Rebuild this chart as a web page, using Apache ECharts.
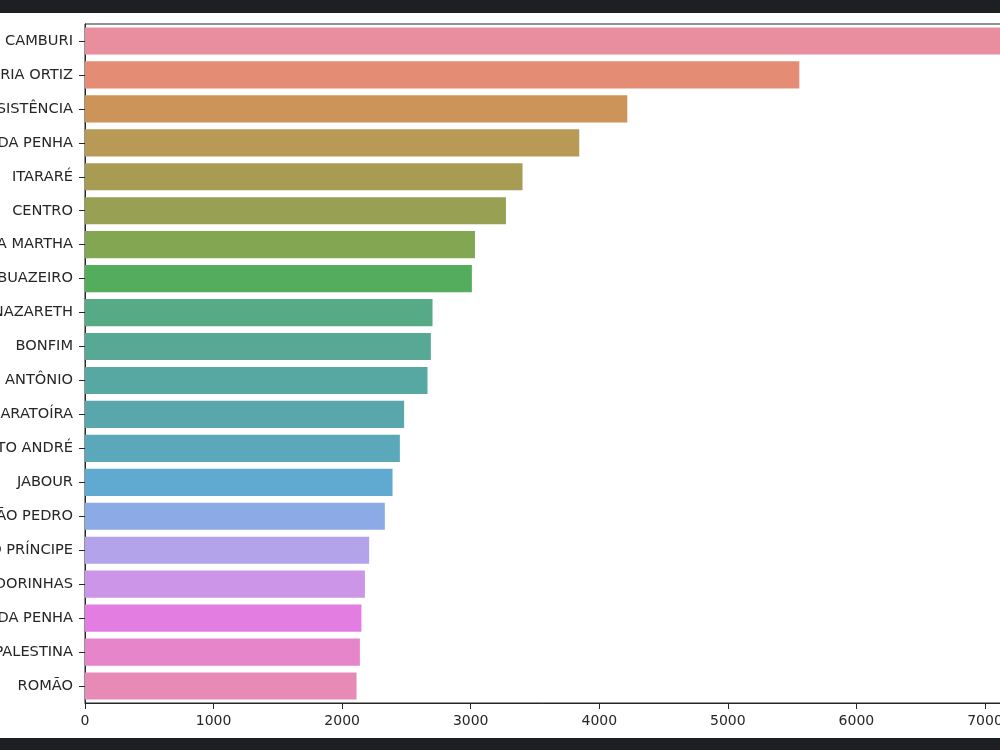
<!DOCTYPE html>
<html>
<head>
<meta charset="utf-8">
<script src="https://cdn.jsdelivr.net/npm/echarts@6/dist/echarts.min.js"></script>
<style>
html,body{margin:0;padding:0;overflow:hidden;background:#fff;}
#chart{width:1000px;height:750px;}
</style>
</head>
<body>
<div id="chart"></div>
<script>
// ---- data ----
const categories = ["JARDIM CAMBURI","MARIA ORTIZ","RESISTÊNCIA","JARDIM DA PENHA","ITARARÉ","CENTRO","SANTA MARTHA","TABUAZEIRO","JESUS DE NAZARETH","BONFIM","SANTO ANTÔNIO","CARATOÍRA","SANTO ANDRÉ","JABOUR","SÃO PEDRO","ILHA DO PRÍNCIPE","ANDORINHAS","DA PENHA","NOVA PALESTINA","ROMÃO"];
const counts = [7400,5556,4218,3844,3403,3274,3033,3009,2703,2690,2664,2482,2449,2392,2332,2210,2177,2150,2138,2112];
const xTicks = [0,1000,2000,3000,4000,5000,6000,7000];

// ---- seaborn "husl" palette, desaturated 0.75 (as seaborn barplot does), slightly washed like the photo ----
const M=[[3.240454162114103,-1.537138512797715,-0.49853140955601],[-0.96926603050518,1.876010845446694,0.041556017530349],[0.055643430959114,-0.20402591351675,1.057225188223179]];
const refU=0.19784977571475, refV=0.46834507665248, kappa=24389/27, eps=216/24389;
function maxChroma(L,H){const hr=H*Math.PI/180,sinH=Math.sin(hr),cosH=Math.cos(hr);const sub1=Math.pow(L+16,3)/1560896;const sub2=sub1>eps?sub1:L/kappa;let res=Infinity;for(const r of M){const m1=r[0],m2=r[1],m3=r[2];const top=(0.99915*m1+1.05122*m2+1.14460*m3)*sub2;const rb=0.86330*m3-0.17266*m2;const lb=0.12949*m3-0.38848*m1;const bottom=(rb*sinH+lb*cosH)*sub2;for(const t of [0,1]){const C=L*(top-1.05122*t)/(bottom+0.17266*sinH*t);if(C>0&&C<res)res=C;}}return res;}
function fromLinear(c){return c<=0.0031308?12.92*c:1.055*Math.pow(c,1/2.4)-0.055;}
function huslToRgb(H,S,L){const C=maxChroma(L,H)/100*S;const hr=H*Math.PI/180;const U=Math.cos(hr)*C,V=Math.sin(hr)*C;
 const varY=L>8?Math.pow((L+16)/116,3):L/kappa;const varU=U/(13*L)+refU,varV=V/(13*L)+refV;const Y=varY;
 const X=0-(9*Y*varU)/((varU-4)*varV-varU*varV);const Z=(9*Y-15*varV*Y-varV*X)/(3*varV);
 return M.map(r=>Math.min(1,Math.max(0,fromLinear(r[0]*X+r[1]*Y+r[2]*Z))));}
function rgbToHls(r,g,b){const mx=Math.max(r,g,b),mn=Math.min(r,g,b);const l=(mx+mn)/2;if(mx===mn)return[0,l,0];const rc0=mx-mn;const s=l<=0.5?rc0/(mx+mn):rc0/(2-mx-mn);const rc=(mx-r)/rc0,gc=(mx-g)/rc0,bc=(mx-b)/rc0;let h;if(r===mx)h=bc-gc;else if(g===mx)h=2+rc-bc;else h=4+gc-rc;h=((h/6)%1+1)%1;return[h,l,s];}
function _v(m1,m2,h){h=((h%1)+1)%1;if(h<1/6)return m1+(m2-m1)*h*6;if(h<0.5)return m2;if(h<2/3)return m1+(m2-m1)*(2/3-h)*6;return m1;}
function hlsToRgb(h,l,s){if(s===0)return[l,l,l];const m2=l<=0.5?l*(1+s):l+s-l*s;const m1=2*l-m2;return[_v(m1,m2,h+1/3),_v(m1,m2,h),_v(m1,m2,h-1/3)];}
function palette(n){const out=[];for(let i=0;i<n;i++){let h=(i/n+0.01)%1;h*=359;const rgb=huslToRgb(h,0.9*99,0.65*99);const hls=rgbToHls(rgb[0],rgb[1],rgb[2]);const d=hlsToRgb(hls[0],hls[1],hls[2]*0.75);out.push('rgb('+d.map(v=>Math.round((v+(1-v)*0.1)*255)).join(',')+')');}return out;}
const colors = palette(categories.length);

const chart = echarts.init(document.getElementById('chart'), null, {renderer:'canvas'});
const axisColor = '#262626';
chart.setOption({
  animation:false,
  backgroundColor:'#ffffff',
  grid:{left:85,right:-75,top:24,bottom:47,outerBoundsMode:'none',containLabel:false,show:true,borderColor:axisColor,borderWidth:1,backgroundColor:'transparent'},
  xAxis:{type:'value',min:xTicks[0],max:7700,interval:xTicks[1]-xTicks[0],
    axisLine:{show:true,lineStyle:{color:axisColor,width:1}},
    axisTick:{show:true,length:6,lineStyle:{color:axisColor}},
    axisLabel:{margin:11,color:axisColor,fontFamily:'DejaVu Sans',fontSize:14,
      formatter:v=>xTicks.indexOf(v)>=0?String(v):''},
    splitLine:{show:false}},
  yAxis:{type:'category',data:categories,inverse:true,
    axisLine:{show:true,lineStyle:{color:axisColor,width:1}},
    axisTick:{show:true,alignWithLabel:true,length:6,lineStyle:{color:axisColor}},
    axisLabel:{interval:0,margin:12,color:axisColor,fontFamily:'DejaVu Sans',fontSize:14.6},
    splitLine:{show:false}},
  series:[{type:'bar',barWidth:'80%',
    data:counts.map((v,i)=>({value:v,itemStyle:{color:colors[i]}}))}],
  graphic:[
    {type:'rect',left:0,top:0,shape:{width:1000,height:13},style:{fill:'#1e1f23'},z:100},
    {type:'rect',left:0,top:738,shape:{width:1000,height:12},style:{fill:'#1e1f23'},z:100}
  ]
});
</script>
</body>
</html>
